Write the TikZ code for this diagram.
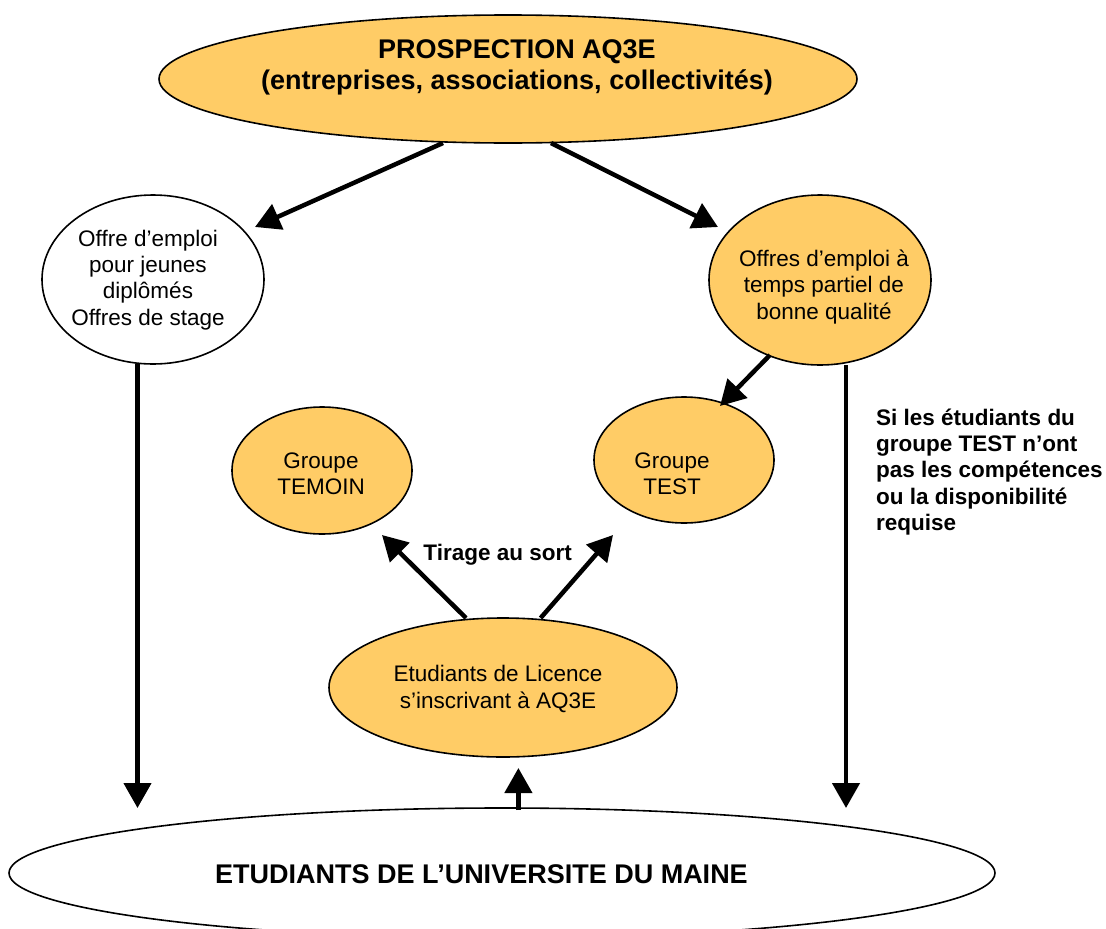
\documentclass[tikz,border=0pt]{standalone}
\usepackage{fontspec}
\setmainfont{Liberation Sans}
\usetikzlibrary{shapes.geometric,arrows.meta}
\definecolor{orangefill}{RGB}{255,204,102}
\begin{document}
\begin{tikzpicture}[x=1pt,y=-1pt,
  oval/.style={ellipse, draw=black, line width=1.6pt, inner sep=0pt},
  orangeoval/.style={oval, fill=orangefill},
  whiteoval/.style={oval, fill=white},
  txt/.style={align=center, font=\fontsize{22.5}{26.3}\selectfont, inner sep=0pt},
  boldtxt/.style={font=\fontsize{22.5}{26.3}\selectfont\bfseries, inner sep=0pt},
  bigtxt/.style={align=center, font=\fontsize{27}{31}\selectfont\bfseries, inner sep=0pt},
  arr/.style={line width=4.5pt, -{Triangle[length=25pt,width=27pt]}}
]
\useasboundingbox (0,0) rectangle (1106,929);
\fill[white] (0,0) rectangle (1106,929);

% ellipses
\node[orangeoval, minimum width=698pt, minimum height=128pt] (prosp) at (508,79) {};
\node[bigtxt] (prospT) at (517,67.5) {PROSPECTION AQ3E\\(entreprises, associations, collectivités)};

\node[whiteoval, minimum width=222pt, minimum height=169pt] (offreL) at (153,279.5) {};
\node[txt] (offreLT) at (148,280) {Offre d’emploi\\pour jeunes\\diplômés\\Offres de stage};

\node[orangeoval, minimum width=222pt, minimum height=170pt] (offreR) at (820,280) {};
\node[txt] (offreRT) at (824,287) {Offres d’emploi à\\temps partiel de\\bonne qualité};

\node[orangeoval, minimum width=180pt, minimum height=127pt] (temoin) at (322,470.5) {};
\node[txt] (temoinT) at (321,473.5) {Groupe\\TEMOIN};

\node[orangeoval, minimum width=180pt, minimum height=126pt] (test) at (684,460) {};
\node[txt] (testT) at (672,473.5) {Groupe\\TEST};

\node[orangeoval, minimum width=348pt, minimum height=139pt] (etud) at (503,687.5) {};
\node[txt] (etudT) at (498,689) {Etudiants de Licence\\s’inscrivant à AQ3E};

\node[whiteoval, minimum width=986pt, minimum height=130pt] (univ) at (502,873) {};
\node[bigtxt] (univT) at (481.5,874) {ETUDIANTS DE L’UNIVERSITE DU MAINE};

% labels
\node[boldtxt] (tirage) at (497.6,555) {Tirage au sort};
\node[boldtxt, align=left, anchor=west] (si) at (876,472) {Si les étudiants du\\groupe TEST n’ont\\pas les compétences\\ou la disponibilité\\requise};

% connector end points
\coordinate (p1) at (443,143);
\coordinate (l1) at (255,227);
\coordinate (p2) at (551,143);
\coordinate (r1) at (718,227);
\coordinate (oL) at (137.5,364);
\coordinate (uL) at (137.5,808);
\coordinate (oR) at (846,365);
\coordinate (uR) at (846,808);
\coordinate (oR2) at (770,355);
\coordinate (tT) at (720,406);
\coordinate (e1) at (466,618);
\coordinate (tM) at (382,535);
\coordinate (e2) at (540.6,618);
\coordinate (tS) at (613,535);
\coordinate (u0) at (518.4,810);
\coordinate (eB) at (518.4,768);

% connectors
\draw[arr] (p1) -- (l1);
\draw[arr] (p2) -- (r1);
\draw[arr] (oL) -- (uL);
\draw[arr] (oR) -- (uR);
\draw[arr] (oR2) -- (tT);
\draw[arr] (e1) -- (tM);
\draw[arr] (e2) -- (tS);
\draw[arr] (u0) -- (eB);
\end{tikzpicture}
\end{document}
